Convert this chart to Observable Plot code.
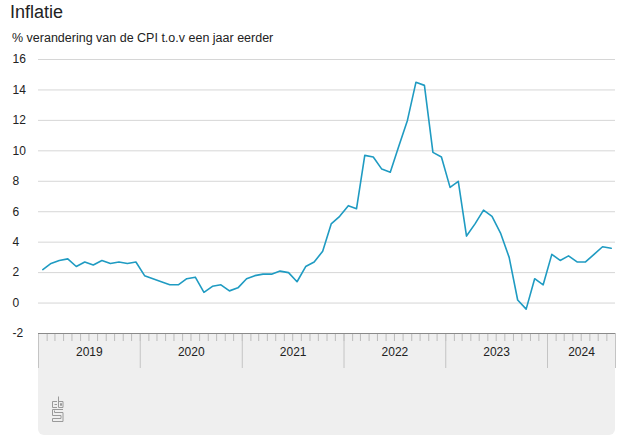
<!DOCTYPE html>
<html>
<head>
<meta charset="utf-8">
<script src="https://cdn.jsdelivr.net/npm/d3@7"></script>
<script src="https://cdn.jsdelivr.net/npm/@observablehq/plot@0.6"></script>
<style>
  html, body { margin: 0; padding: 0; background: #fff; }
  #wrap { position: relative; width: 626px; height: 440px; overflow: hidden; font-family: "Liberation Sans", Arial, sans-serif; color: #222; }
  #title { position: absolute; left: 10px; top: 3px; font-size: 18px; line-height: 18px; }
  #subtitle { position: absolute; left: 12px; top: 32px; font-size: 12.5px; line-height: 12.5px; }
  #panel { position: absolute; left: 38px; top: 333px; width: 577px; height: 102px; background: #efefef; border-radius: 0 0 6px 6px; }
  #logo { position: absolute; left: 51px; top: 396px; }
  #chart { position: absolute; left: 0; top: 50px; }
</style>
</head>
<body>
<div id="wrap">
  <div id="panel"></div>
  <svg id="logo" width="13" height="27" viewBox="0 0 13 27">
    <g fill="none" stroke="#9a9a9a" stroke-width="1">
      <path d="M6 5.5 H1.5 V11.5 H6 M6 8.5 H3.5"/>
      <path d="M7.5 0.5 V11.5 H12 V5.5 H7.5 M9.5 7.5 H10.5 V9.5 H9.5 Z"/>
      <path d="M12 13.5 H1.5 V19.5 H10 V22.5 H1.5 V25.5 H12 V16.5 H3.5 V14.5"/>
    </g>
  </svg>
  <div id="title">Inflatie</div>
  <div id="subtitle">% verandering van de CPI t.o.v een jaar eerder</div>
  <div id="chart"></div>
</div>
<script>
// Data: yearly % change of CPI, monthly from January 2019
const startMonth = "2019-01-01";
const inflatie = [
  2.2, 2.6, 2.8, 2.9, 2.4, 2.7, 2.5, 2.8, 2.6, 2.7, 2.6, 2.7,   // 2019
  1.8, 1.6, 1.4, 1.2, 1.2, 1.6, 1.7, 0.7, 1.1, 1.2, 0.8, 1.0,   // 2020
  1.6, 1.8, 1.9, 1.9, 2.1, 2.0, 1.4, 2.4, 2.7, 3.4, 5.2, 5.7,   // 2021
  6.4, 6.2, 9.7, 9.6, 8.8, 8.6, 10.3, 12.0, 14.5, 14.3, 9.9, 9.6, // 2022
  7.6, 8.0, 4.4, 5.2, 6.1, 5.7, 4.6, 3.0, 0.2, -0.4, 1.6, 1.2,  // 2023
  3.2, 2.8, 3.1, 2.7, 2.7, 3.2, 3.7, 3.6                        // 2024
];
const years = [2019, 2020, 2021, 2022, 2023, 2024];
const yTicks = [-2, 0, 2, 4, 6, 8, 10, 12, 14, 16];

const start = new Date(startMonth);
const data = inflatie.map((v, i) => {
  const m = d3.utcMonth.offset(start, i);
  const next = d3.utcMonth.offset(start, i + 1);
  return {date: new Date((+m + +next) / 2), value: v};
});
const end = d3.utcMonth.offset(start, inflatie.length);
const monthTicks = d3.utcMonth.range(start, d3.utcMonth.offset(end, 1));
const yearBounds = years.map(y => new Date(Date.UTC(y, 0, 1))).concat([end]);
const yearLabels = years.map((y, i) => {
  const a = yearBounds[i], b = yearBounds[i + 1] < end ? yearBounds[i + 1] : end;
  return {date: new Date((+a + +b) / 2), label: String(y)};
});

const chart = Plot.plot({
  width: 626,
  height: 390,
  marginLeft: 38,
  marginRight: 11,
  marginTop: 9,
  marginBottom: 107,
  style: {background: "transparent", fontFamily: "Liberation Sans, Arial, sans-serif"},
  x: {type: "utc", domain: [start, end], axis: null},
  y: {domain: [-2, 16], axis: null},
  marks: [
    Plot.ruleY(yTicks.filter(d => d > -2), {stroke: "#d6d6d6", strokeWidth: 1}),
    Plot.axisX({ticks: monthTicks, tickSize: 8, tickFormat: () => "", stroke: "#bcbcbc"}),
    Plot.axisX({ticks: yearBounds, tickSize: 35, tickFormat: () => "", stroke: "#c4c4c4"}),
    Plot.ruleY([-2], {stroke: "#8a8a8a", strokeWidth: 1}),
    Plot.text(yearLabels, {x: "date", text: "label", frameAnchor: "bottom", dy: 22, fontSize: 12, fill: "#222"}),
    Plot.text(yTicks, {y: d => d, text: d => String(d), frameAnchor: "left", textAnchor: "start", dx: -26, fontSize: 12, fill: "#222"}),
    Plot.line(data, {x: "date", y: "value", stroke: "#1f9bc2", strokeWidth: 1.6})
  ]
});
document.getElementById("chart").appendChild(chart);
</script>
</body>
</html>
